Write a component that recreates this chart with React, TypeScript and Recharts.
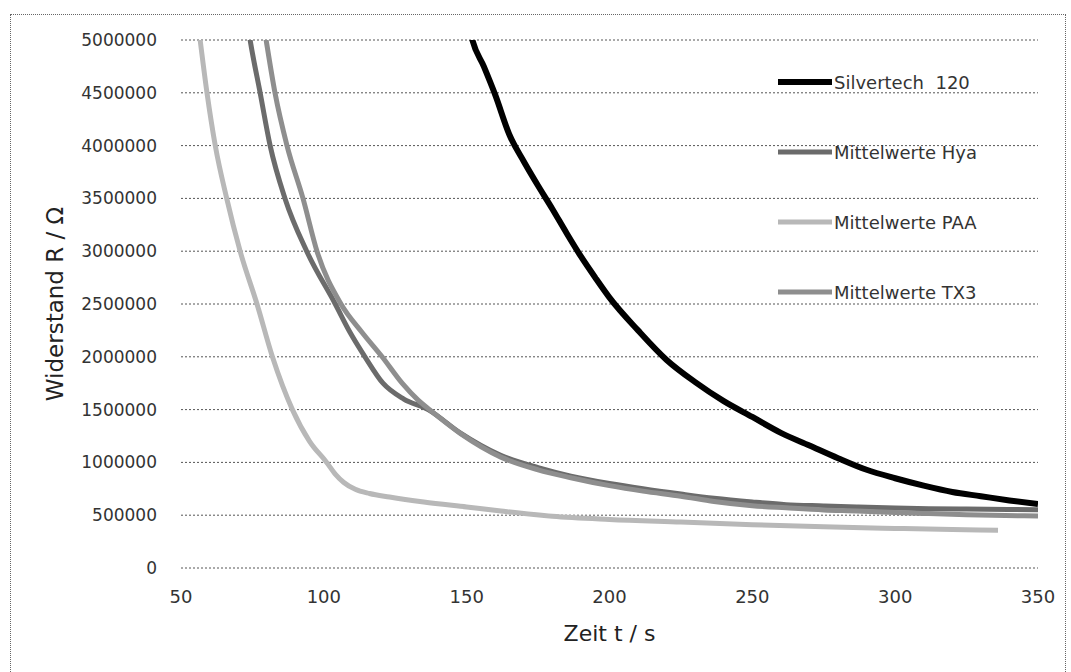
import React from 'react'
import { LineChart, Line, XAxis, YAxis, CartesianGrid, Legend } from 'recharts'

// axis ticks
const xTicks = [50, 100, 150, 200, 250, 300, 350]
const yTicks = [0, 500000, 1000000, 1500000, 2000000, 2500000, 3000000, 3500000, 4000000, 4500000, 5000000]

// Silvertech 120
const silvertechTime = [150, 152, 156, 160, 165, 170, 175, 180, 185, 190, 195, 200, 210, 220, 230, 240, 250, 260, 270, 280, 290, 300, 310, 320, 330, 340, 350]
const silvertechR = [5250000, 5000000, 4750000, 4480000, 4100000, 3850000, 3620000, 3400000, 3170000, 2950000, 2750000, 2560000, 2250000, 1970000, 1760000, 1580000, 1430000, 1280000, 1160000, 1040000, 930000, 850000, 780000, 720000, 680000, 640000, 605000]

// Mittelwerte Hya
const hyaTime = [72, 74.2, 77.7, 81.2, 86.4, 94, 104, 109.2, 114.4, 120.7, 128, 136.5, 147.7, 161.7, 175, 186.5, 200, 211.7, 225, 236.6, 250, 261.8, 275, 286.6, 300, 311.8, 325, 350]
const hyaR = [5400000, 5000000, 4500000, 4000000, 3500000, 3000000, 2500000, 2230000, 2000000, 1750000, 1600000, 1500000, 1280000, 1070000, 950000, 870000, 800000, 750000, 700000, 660000, 625000, 600000, 588000, 578000, 568000, 562000, 558000, 552000]

// Mittelwerte PAA
const paaTime = [54, 56.7, 59.1, 62, 66, 70.7, 76.6, 82, 89, 95, 101, 104, 107, 111, 116, 123, 135, 150, 162, 180, 200, 225, 250, 275, 300, 320, 336]
const paaR = [5600000, 5000000, 4500000, 4000000, 3500000, 3000000, 2500000, 2000000, 1500000, 1200000, 1000000, 890000, 810000, 745000, 705000, 672000, 625000, 578000, 540000, 490000, 460000, 435000, 410000, 390000, 375000, 365000, 358000]

// Mittelwerte TX3
const tx3Time = [77.5, 79.8, 82.9, 87.1, 92.7, 97.6, 106, 113.4, 120.4, 127.4, 133, 137, 148, 162, 175, 186.5, 200, 211.7, 225, 236.6, 250, 261.8, 275, 286.6, 300, 311.8, 325, 350]
const tx3R = [5400000, 5000000, 4500000, 4000000, 3500000, 3000000, 2500000, 2230000, 2000000, 1750000, 1590000, 1500000, 1270000, 1050000, 930000, 855000, 780000, 728000, 680000, 630000, 590000, 570000, 550000, 540000, 525000, 515000, 505000, 492000]

const toPoints = (time: number[], r: number[]) => time.map((t, i) => ({ t, r: r[i] }))

const SERIES = [
  { name: 'Silvertech  120', data: toPoints(silvertechTime, silvertechR), color: '#000000', width: 6 },
  { name: 'Mittelwerte Hya', data: toPoints(hyaTime, hyaR), color: '#6b6b6b', width: 5 },
  { name: 'Mittelwerte PAA', data: toPoints(paaTime, paaR), color: '#b8b8b8', width: 5 },
  { name: 'Mittelwerte TX3', data: toPoints(tx3Time, tx3R), color: '#8e8e8e', width: 5 },
]

const FONT = '"DejaVu Sans", sans-serif'

function renderLegend() {
  return (
    <div style={{ fontFamily: FONT }}>
      {SERIES.map(s => (
        <div key={s.name} style={{ height: 70, display: 'flex', alignItems: 'center' }}>
          <svg width={54} height={10} style={{ marginRight: 2 }}>
            <line x1={0} y1={5} x2={54} y2={5} stroke={s.color} strokeWidth={s.width} />
          </svg>
          <span style={{ fontSize: 18, color: '#333', whiteSpace: 'pre' }}>{s.name}</span>
        </div>
      ))}
    </div>
  )
}

export default function App() {
  return (
    <div
      style={{
        position: 'absolute',
        left: 10,
        top: 14,
        width: 1056,
        height: 660,
        boxSizing: 'border-box',
        border: '1px dotted #666',
        background: '#fff',
      }}
    >
      <LineChart
        width={1050}
        height={650}
        margin={{ top: 25, right: 23, bottom: 17, left: 0 }}
        style={{ fontFamily: FONT }}
      >
        <CartesianGrid vertical={false} stroke="#555" strokeDasharray="2 2" />
        <XAxis
          dataKey="t"
          type="number"
          domain={[50, 350]}
          ticks={xTicks}
          allowDataOverflow
          axisLine={false}
          tickLine={false}
          height={80}
          tickMargin={16}
          tick={{ fontSize: 18, fill: '#333' }}
          label={{ value: 'Zeit t / s', position: 'insideBottom', offset: 7, style: { fontSize: 22, fill: '#222' } }}
        />
        <YAxis
          dataKey="r"
          type="number"
          domain={[0, 5000000]}
          ticks={yTicks}
          allowDataOverflow
          axisLine={false}
          tickLine={false}
          width={170}
          tickMargin={18}
          tick={{ fontSize: 17, fill: '#333' }}
          label={{
            value: 'Widerstand R / Ω',
            angle: -90,
            position: 'insideLeft',
            offset: 44,
            style: { textAnchor: 'middle', fontSize: 23, fill: '#222' },
          }}
        />
        <Legend
          layout="vertical"
          align="center"
          verticalAlign="middle"
          content={renderLegend}
          wrapperStyle={{ top: 32, left: 767, width: 260 }}
        />
        {SERIES.map(s => (
          <Line
            key={s.name}
            data={s.data}
            dataKey="r"
            name={s.name}
            type="monotone"
            stroke={s.color}
            strokeWidth={s.width}
            dot={false}
            activeDot={false}
            isAnimationActive={false}
          />
        ))}
      </LineChart>
    </div>
  )
}
